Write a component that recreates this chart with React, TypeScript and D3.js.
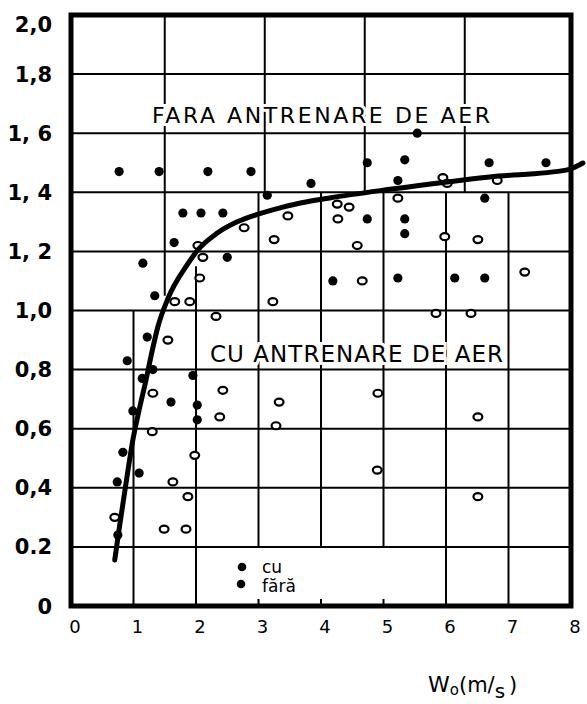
import { useMemo } from "react";
import * as d3 from "d3";

const WIDTH = 587;
const HEIGHT = 704;

// tick labels as printed on the scan
const xTicks = [0, 1, 2, 3, 4, 5, 6, 7, 8];
const yTicks = [2.0, 1.8, 1.6, 1.4, 1.2, 1.0, 0.8, 0.6, 0.4, 0.2, 0];
const yTickLabels = ["2,0", "1,8", "1, 6", "1, 4", "1, 2", "1,0", "0,8", "0,6", "0,4", "0.2", "0"];

// horizontal grid lines
const gridY = [0.2, 0.4, 0.6, 0.8, 1.0, 1.2, 1.4, 1.6, 1.8];

// vertical grid pieces (the hand drawn grid is not regular)
const gridX = [
  { x: 1.5, from: 1.05, to: 2 },
  { x: 3.1, from: 1.4, to: 2 },
  { x: 4.7, from: 1.4, to: 2 },
  { x: 6.3, from: 1.4, to: 2 },
  { x: 1, from: 0, to: 1.0 },
  { x: 2, from: 0, to: 1.15 },
  { x: 3, from: 0.2, to: 1.4 },
  { x: 4, from: 0.2, to: 1.4 },
  { x: 5, from: 0.2, to: 1.4 },
  { x: 6, from: 0, to: 1.4 },
  { x: 7, from: 0, to: 1.4 },
];
const shortTicks = [3, 4, 5];

// fără antrenare de aer (filled dots)
const faraPoints: [number, number][] = [
  [0.77, 1.47], [1.41, 1.47], [2.19, 1.47], [2.88, 1.47], [3.14, 1.39],
  [1.79, 1.33], [2.08, 1.33], [2.43, 1.33], [1.65, 1.23], [1.15, 1.16],
  [2.5, 1.18], [1.34, 1.05], [5.54, 1.6], [5.34, 1.51], [4.74, 1.5],
  [6.69, 1.5], [7.6, 1.5], [3.84, 1.43], [5.23, 1.44], [6.62, 1.38],
  [4.74, 1.31], [5.34, 1.31], [5.34, 1.26], [4.19, 1.1], [5.23, 1.11],
  [6.14, 1.11], [6.62, 1.11], [1.22, 0.91], [0.9, 0.83], [1.31, 0.8],
  [1.14, 0.77], [1.95, 0.78], [1.6, 0.69], [2.02, 0.68], [0.99, 0.66],
  [2.02, 0.63], [0.83, 0.52], [1.09, 0.45], [0.74, 0.42], [0.75, 0.24],
];

// cu antrenare de aer (open circles)
const cuPoints: [number, number][] = [
  [3.47, 1.32], [2.77, 1.28], [3.25, 1.24], [2.03, 1.22], [2.11, 1.18],
  [2.06, 1.11], [1.66, 1.03], [1.9, 1.03], [3.23, 1.03], [4.26, 1.36],
  [4.45, 1.35], [4.27, 1.31], [4.58, 1.22], [5.23, 1.38], [5.95, 1.45],
  [6.02, 1.43], [6.82, 1.44], [5.98, 1.25], [6.51, 1.24], [4.66, 1.1],
  [7.26, 1.13], [5.84, 0.99], [6.4, 0.99], [2.32, 0.98], [1.55, 0.9],
  [2.43, 0.73], [1.31, 0.72], [2.38, 0.64], [3.33, 0.69], [3.28, 0.61],
  [1.3, 0.59], [1.98, 0.51], [1.63, 0.42], [1.87, 0.37], [0.7, 0.3],
  [1.49, 0.26], [1.84, 0.26], [4.91, 0.72], [6.51, 0.64], [4.9, 0.46],
  [6.51, 0.37],
];

// drawn curve
const curvePoints: [number, number][] = [
  [0.7, 0.156], [0.76, 0.246], [0.84, 0.359], [0.92, 0.471], [0.99, 0.562],
  [1.09, 0.663], [1.2, 0.765], [1.29, 0.855], [1.39, 0.945], [1.55, 1.04],
  [1.86, 1.155], [2.03, 1.205], [2.34, 1.262], [2.66, 1.3], [2.98, 1.325],
  [3.39, 1.35], [3.78, 1.368], [4.14, 1.381], [5.1, 1.41], [6.7, 1.452],
  [7.94, 1.476], [8.19, 1.499],
];

const INK = "#000";
const FONT = "'DejaVu Sans', sans-serif";

export default function App() {
  const x = useMemo(() => d3.scaleLinear().domain([0, 8]).range([71, 571]), []);
  const y = useMemo(() => d3.scaleLinear().domain([0, 2]).range([606, 15]), []);

  const curvePath = d3
    .line<[number, number]>()
    .x((d) => x(d[0]))
    .y((d) => y(d[1]))
    .curve(d3.curveMonotoneX)(curvePoints);

  const halo = { stroke: "#fff", strokeWidth: 6, paintOrder: "stroke" as const };

  return (
    <>
      <style>{`body{margin:0}`}</style>
      <svg width={WIDTH} height={HEIGHT} style={{ display: "block", background: "#fff" }}>
        {/* grid */}
        <g stroke={INK} strokeWidth={2}>
          {gridY.map((v) => (
            <line key={"h" + v} x1={x(0)} x2={x(8)} y1={y(v)} y2={y(v)} />
          ))}
          {gridX.map((g, i) => (
            <line key={"v" + i} x1={x(g.x)} x2={x(g.x)} y1={y(g.from)} y2={y(g.to)} />
          ))}
          {shortTicks.map((v) => (
            <line key={"t" + v} x1={x(v)} x2={x(v)} y1={y(0)} y2={y(0) - 7} />
          ))}
        </g>

        {/* labels inside the plot */}
        <text
          x={152}
          y={123}
          fontFamily={FONT}
          fontSize={22}
          textLength={338}
          lengthAdjust="spacing"
          {...halo}
          fill={INK}
        >
          FARA ANTRENARE DE AER
        </text>
        <text
          x={210}
          y={362}
          fontFamily={FONT}
          fontSize={23}
          textLength={293}
          lengthAdjust="spacing"
          {...halo}
          fill={INK}
        >
          CU ANTRENARE DE AER
        </text>

        {/* points */}
        <g>
          {faraPoints.map((d, i) => (
            <circle key={"f" + i} cx={x(d[0])} cy={y(d[1])} r={4.6} fill={INK} />
          ))}
          {cuPoints.map((d, i) => (
            <ellipse
              key={"c" + i}
              cx={x(d[0])}
              cy={y(d[1])}
              rx={4.4}
              ry={3.5}
              fill="#fff"
              stroke={INK}
              strokeWidth={2.2}
            />
          ))}
        </g>

        {/* curve */}
        <path d={curvePath ?? ""} fill="none" stroke={INK} strokeWidth={5} strokeLinecap="round" />

        {/* frame */}
        <rect
          x={x(0)}
          y={y(2)}
          width={x(8) - x(0)}
          height={y(0) - y(2)}
          fill="none"
          stroke={INK}
          strokeWidth={5}
        />

        {/* legend */}
        <g fontFamily={FONT} fontSize={17} fill={INK}>
          <circle cx={242} cy={567} r={4.3} />
          <text x={262} y={573}>cu</text>
          <circle cx={241} cy={584} r={4.3} />
          <text x={262} y={592}>fără</text>
        </g>

        {/* y tick labels */}
        <g fontFamily={FONT} fontSize={21} fontWeight="bold" fill={INK} textAnchor="end">
          {yTicks.map((v, i) => (
            <text key={"yl" + i} x={52} y={Math.max(y(v), 24)} dy="0.36em">
              {yTickLabels[i]}
            </text>
          ))}
        </g>

        {/* x tick labels */}
        <g fontFamily={FONT} fontSize={18} fill={INK} textAnchor="middle">
          {xTicks.map((v) => (
            <text key={"xl" + v} x={x(v) + 4} y={633}>
              {v}
            </text>
          ))}
        </g>

        {/* axis title */}
        <text x={428} y={692} fontFamily={FONT} fontSize={22} fill={INK}>
          W
          <tspan fontSize={15} dy={3}>o</tspan>
          <tspan fontSize={21} dy={-3}>(m/</tspan>
          <tspan fontSize={20} dy={6}>s</tspan>
          <tspan fontSize={21} dy={-6} dx={4}>)</tspan>
        </text>
      </svg>
    </>
  );
}
